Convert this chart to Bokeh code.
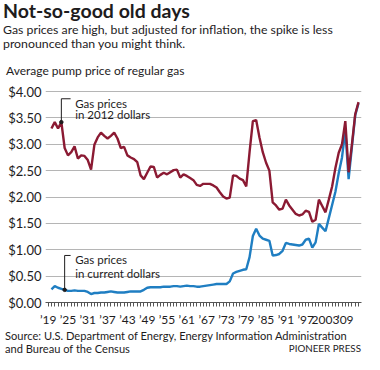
from bokeh.plotting import figure
from bokeh.layouts import column
from bokeh.models import Label, FixedTicker, Range1d, NumeralTickFormatter, Div
from bokeh.embed import file_html
from bokeh.resources import INLINE

FONT = "Lato"
TEXT = "#1e1c1d"
RED = "#8b1a33"
BLUE = "#1f7ec2"
GRID = "#b5b5b5"
W = 364

years = list(range(1919, 2013))

price_2012_dollars = [
    3.30,
    3.42, 3.30, 3.42, 2.93, 2.79, 2.85, 2.96, 2.73, 2.79, 2.78,
    2.70, 2.52, 2.99, 3.13, 3.22, 3.16, 3.11, 3.16, 3.22, 3.11,
    2.93, 2.95, 2.79, 2.75, 2.72, 2.66, 2.41, 2.34, 2.46, 2.58,
    2.57, 2.37, 2.42, 2.46, 2.43, 2.47, 2.51, 2.52, 2.37, 2.43,
    2.40, 2.36, 2.32, 2.23, 2.21, 2.25, 2.25, 2.25, 2.22, 2.18,
    2.09, 2.01, 1.97, 1.99, 2.41, 2.40, 2.35, 2.32, 2.20, 2.85,
    3.44, 3.46, 3.13, 2.85, 2.65, 2.50, 1.90, 1.84, 1.76, 1.78,
    1.95, 1.84, 1.76, 1.68, 1.65, 1.67, 1.74, 1.72, 1.53, 1.57,
    1.95, 1.83, 1.71, 1.95, 2.20, 2.55, 2.84, 3.00, 3.44, 2.47,
    3.00, 3.57, 3.80,
]

price_current_dollars = [
    0.25,
    0.31, 0.28, 0.26, 0.24, 0.22, 0.22, 0.23, 0.22, 0.22, 0.22,
    0.20, 0.16, 0.18, 0.18, 0.19, 0.19, 0.20, 0.21, 0.20, 0.19,
    0.19, 0.19, 0.20, 0.21, 0.21, 0.21, 0.21, 0.24, 0.28, 0.29,
    0.29, 0.29, 0.29, 0.30, 0.30, 0.30, 0.31, 0.31, 0.30, 0.31,
    0.32, 0.31, 0.31, 0.30, 0.30, 0.31, 0.32, 0.33, 0.34, 0.35,
    0.35, 0.35, 0.35, 0.40, 0.55, 0.58, 0.60, 0.62, 0.63, 0.86,
    1.26, 1.40, 1.27, 1.21, 1.19, 1.17, 0.89, 0.90, 0.92, 0.98,
    1.13, 1.11, 1.10, 1.09, 1.08, 1.10, 1.19, 1.21, 1.04, 1.14,
    1.49, 1.42, 1.35, 1.60, 1.85, 2.10, 2.45, 2.75, 3.27, 2.34,
    2.95, 3.55, 3.78,
]

y_ticks = [0.0, 0.5, 1.0, 1.5, 2.0, 2.5, 3.0, 3.5, 4.0]
x_label_years = [1919, 1925, 1931, 1937, 1943, 1949, 1955, 1961, 1967,
                 1973, 1979, 1985, 1991, 1997, 2003, 2009]
x_tick_labels = ["\u201919", "\u201925", "\u201931", "\u201937", "\u201943",
                 "\u201949", "\u201955", "\u201961", "\u201967", "\u201973",
                 "\u201979", "\u201985", "\u201991", "\u201997", "2003", "\u201909"]
minor_years = list(range(1918, 2013))

title = "Not-so-good old days"
subtitle = ["Gas prices are high, but adjusted for inflation, the spike is less",
            "pronounced than you might think."]
y_title = "Average pump price of regular gas"
source = ["Source: U.S. Department of Energy, Energy Information Administration",
          "and Bureau of the Census"]
credit = "PIONEER PRESS"

ASC = 0.887  # Lato baseline offset (em) inside a line box of line-height 1


def text_line(text, baseline, size, left=None, right=None, weight="normal"):
    top = baseline - ASC * size
    horiz = f"left:{left}px;" if left is not None else f"right:{right}px;"
    return (f'<div style="position:absolute;top:{top:.2f}px;{horiz}'
            f'font-family:{FONT};font-size:{size}px;font-weight:{weight};'
            f'line-height:1;white-space:nowrap;color:{TEXT};">{text}</div>')


def text_block(height, lines):
    inner = "".join(lines)
    html = (f'<div style="position:relative;width:{W}px;height:{height}px;'
            f'margin:0;padding:0;overflow:visible;">{inner}</div>')
    return Div(text=html, width=W, height=height, margin=0)


# ---------- header ----------
HH = 82
head = text_block(HH, [
    text_line(title, 18.5, 19.5, left=3, weight="bold"),
    text_line(subtitle[0], 35, 12.3, left=3),
    text_line(subtitle[1], 49.3, 12.3, left=3),
    text_line(y_title, 75.5, 12, left=6),
])

# ---------- main chart ----------
p = figure(width=W, height=247,
           x_range=Range1d(1917.2, 2012.9), y_range=Range1d(0, 4.02),
           output_backend="svg", toolbar_location=None,
           min_border_left=45, min_border_right=3,
           min_border_top=8, min_border_bottom=26)
p.outline_line_color = None

p.xgrid.grid_line_color = None
p.ygrid.ticker = FixedTicker(ticks=y_ticks)
p.ygrid.grid_line_color = GRID
p.ygrid.grid_line_width = 1

p.yaxis.ticker = FixedTicker(ticks=y_ticks)
p.yaxis.formatter = NumeralTickFormatter(format="$0.00")
p.yaxis.axis_line_color = None
p.yaxis.major_tick_line_color = None
p.yaxis.minor_tick_line_color = None
p.yaxis.major_tick_out = 0
p.yaxis.minor_tick_out = 0
p.yaxis.major_label_standoff = 4
p.yaxis.major_label_text_font = FONT
p.yaxis.major_label_text_font_size = "13px"
p.yaxis.major_label_text_color = TEXT

label_pos = [y - 1 for y in x_label_years]
p.xaxis.ticker = FixedTicker(ticks=label_pos, minor_ticks=minor_years)
p.xaxis.major_label_overrides = {t: l for t, l in zip(label_pos, x_tick_labels)}
p.xaxis.axis_line_color = "#555555"
p.xaxis.axis_line_width = 1
p.xaxis.major_tick_line_color = None
p.xaxis.major_tick_out = 0
p.xaxis.major_tick_in = 0
p.xaxis.minor_tick_line_color = "#555555"
p.xaxis.minor_tick_out = 4
p.xaxis.minor_tick_in = 0
p.xaxis.major_label_standoff = 5
p.xaxis.major_label_text_font = FONT
p.xaxis.major_label_text_font_size = "12px"
p.xaxis.major_label_text_color = TEXT

p.line(years, price_current_dollars, line_color=BLUE, line_width=2.4)
p.line(years, price_2012_dollars, line_color=RED, line_width=2.4)

# leader lines anchored on data points
i_red = years.index(1922)
i_blue = years.index(1923)
p.line([years[i_red], years[i_red], 1924.8],
       [price_2012_dollars[i_red], 3.863, 3.863], line_color=TEXT, line_width=1)
p.scatter([years[i_red]], [price_2012_dollars[i_red]], size=3.5, color=TEXT)
p.line([years[i_blue], years[i_blue], 1924.8],
       [price_current_dollars[i_blue], 0.892, 0.892], line_color=TEXT, line_width=1)
p.scatter([years[i_blue]], [price_current_dollars[i_blue]], size=3.5, color=TEXT)


def lab(fig, x, y, text, size):
    fig.add_layout(Label(x=x, y=y, x_units="data", y_units="data", text=text,
                         text_font=FONT, text_font_size=size, text_color=TEXT,
                         text_align="left", text_baseline="alphabetic"))


lab(p, 1926.2, 3.766, "Gas prices", "11.5px")
lab(p, 1926.2, 3.556, "in 2012 dollars", "11.5px")
lab(p, 1926.2, 0.806, "Gas prices", "11.5px")
lab(p, 1926.2, 0.559, "in current dollars", "11.5px")

# ---------- footer ----------
FH = 25
foot = text_block(FH, [
    text_line(source[0], 10.5, 11.1, left=5),
    text_line(source[1], 23.5, 11.1, left=5),
    text_line(credit, 23.5, 9.8, right=3),
])

layout = column(head, p, foot, spacing=0)
open("out.html", "w").write(file_html(layout, INLINE))
